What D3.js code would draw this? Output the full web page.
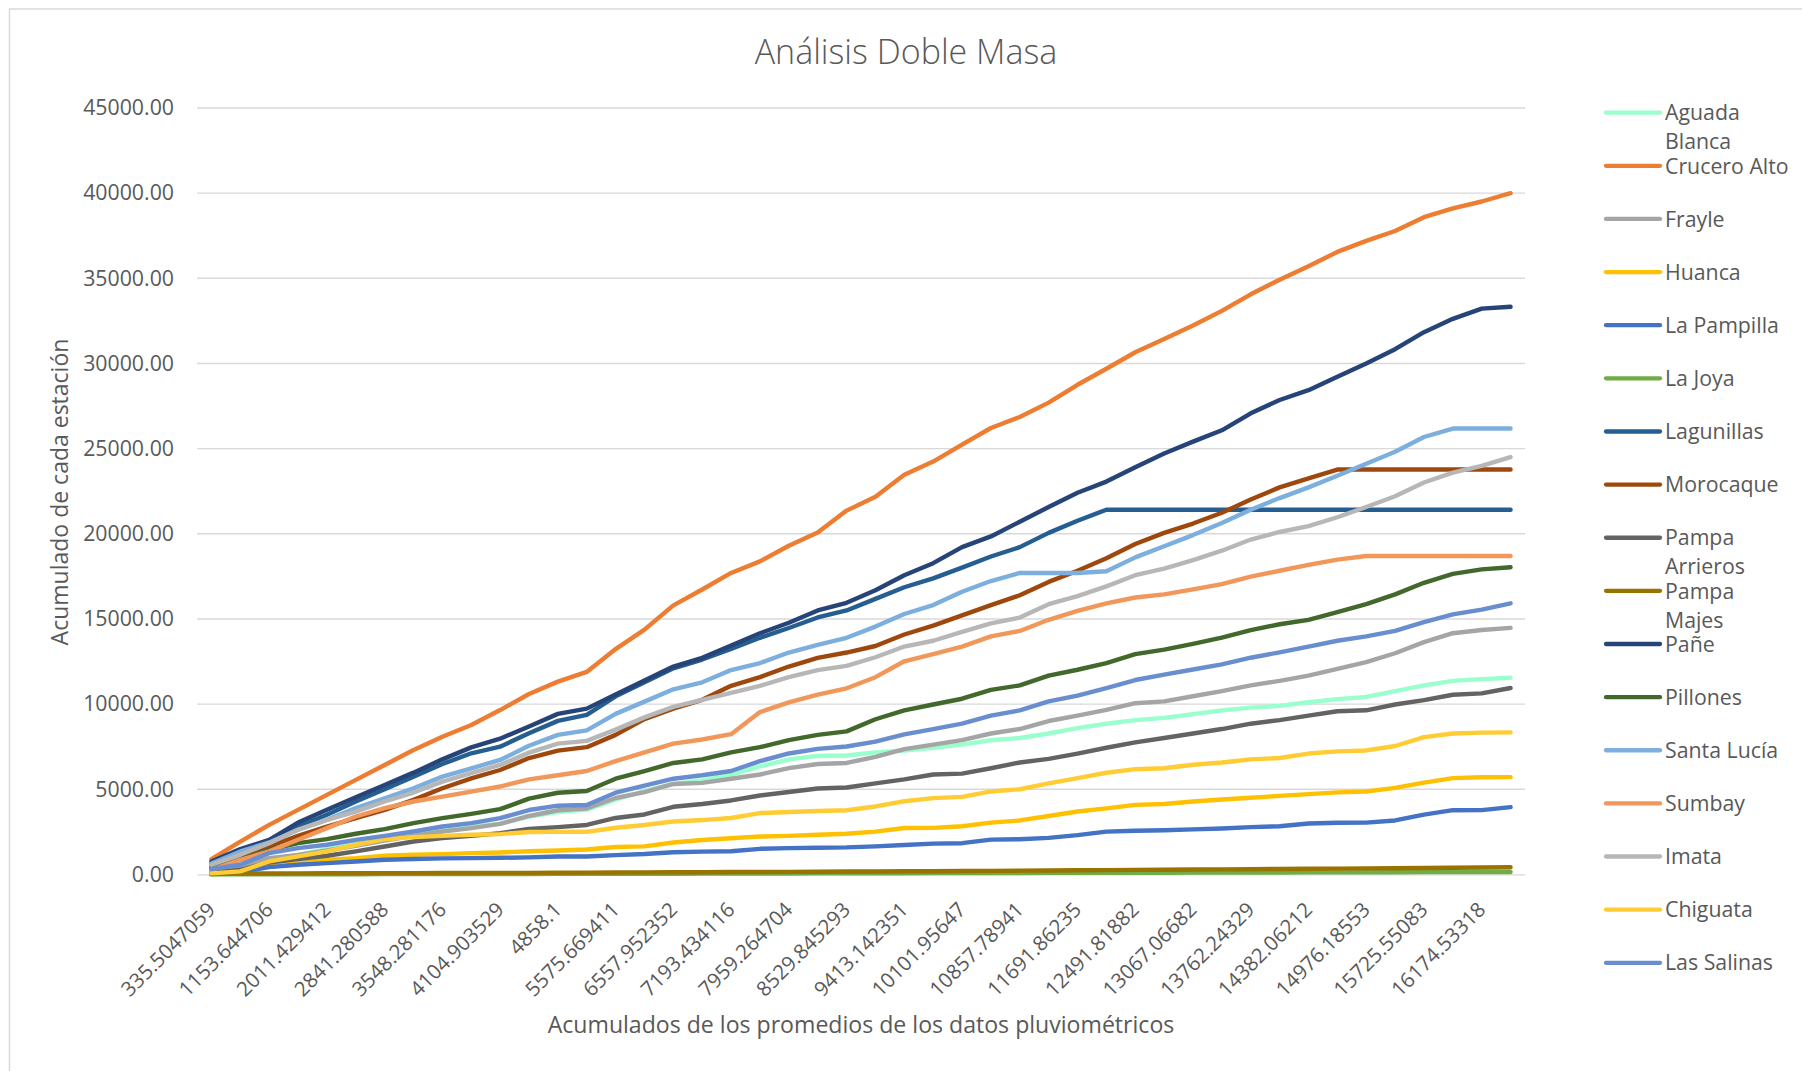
<!DOCTYPE html>
<html><head><meta charset="utf-8">
<script src="https://cdn.jsdelivr.net/npm/d3@7"></script>
<style>
body{margin:0;background:#fff}
svg{display:block}
text{font-family:'Open Sans','Liberation Sans',sans-serif;fill:#595959}
</style>
</head><body>
<svg id="chart" width="1802" height="1071"></svg>
<script>
// ---------------- DATA ----------------
const chartTitle = "Análisis Doble Masa";
const xTitle = "Acumulados de los promedios de los datos pluviométricos";
const yTitle = "Acumulado de cada estación";

const categories = [
  "335.5047059","748.6947059","1153.644706","1612.905882","2011.429412","2438.217647",
  "2841.280588","3195.941176","3548.281176","3829.764706","4104.903529","4519.235294",
  "4858.1","5119.478823","5575.669411","6086.823529","6557.952352","6881.117646",
  "7193.434116","7591.064704","7959.264704","8262.711763","8529.845293","8983.274116",
  "9413.142351","9742.517645","10101.95647","10489.34118","10857.78941","11283.45882",
  "11691.86235","12108.21176","12491.81882","12786.04706","13067.06682","13421.78329",
  "13762.24329","14055.37976","14382.06212","14690.80094","14976.18553","15357.70259",
  "15725.55083","15951.36024","16174.53318","16502.41965"
];
const yTicks = [0,5000,10000,15000,20000,25000,30000,35000,40000,45000];

const seriesNames = ["Aguada Blanca","Crucero Alto","Frayle","Huanca","La Pampilla","La Joya",
  "Lagunillas","Morocaque","Pampa Arrieros","Pampa Majes","Pañe","Pillones","Santa Lucía",
  "Sumbay","Imata","Chiguata","Las Salinas"];
const seriesColors = ["#99FFCC","#ED7D31","#A5A5A5","#FFC000","#4472C4","#70AD47",
  "#255E91","#9E480E","#636363","#997300","#264478","#43682B","#7CAFDD",
  "#F1975A","#B7B7B7","#FFCD33","#698ED0"];

const aguadaBlanca = [180,470,900,1150,1485,1835,2070,2325,2580,2810,2970,3400,3663,3807,4384,4898,5310,5515,5865,6339,6750,6956,6980,7165,7278,7435,7618,7880,8011,8273,8587,8849,9058,9189,9410,9634,9791,9896,10105,10289,10420,10760,11100,11362,11467,11545];
const cruceroAlto = [900,1930,2910,3790,4670,5550,6425,7300,8085,8770,9650,10590,11320,11890,13230,14370,15800,16730,17700,18380,19300,20070,21360,22170,23460,24240,25240,26210,26860,27700,28750,29690,30660,31440,32230,33090,34060,34920,35710,36550,37200,37780,38590,39110,39510,40000];
const frayle = [235,470,955,1150,1405,1680,1990,2265,2520,2715,2970,3430,3766,3869,4486,4836,5310,5371,5618,5865,6236,6483,6544,6900,7357,7618,7880,8273,8535,9006,9320,9660,10053,10158,10460,10760,11100,11362,11676,12069,12462,12985,13640,14163,14347,14478];
const huanca = [0,80,565,665,860,955,1095,1150,1190,1250,1290,1360,1400,1461,1605,1646,1873,2017,2120,2223,2264,2326,2387,2510,2723,2730,2827,3037,3168,3430,3691,3875,4084,4136,4280,4398,4503,4608,4712,4817,4870,5079,5393,5655,5707,5710];
const laPampilla = [20,120,430,565,665,760,860,900,940,955,975,1000,1050,1055,1132,1194,1297,1338,1358,1502,1544,1564,1585,1648,1728,1806,1833,2042,2068,2147,2304,2513,2566,2592,2644,2697,2775,2827,2985,3037,3040,3168,3508,3770,3775,3953];
const laJoya = [0,3,5,7,11,12,16,18,19,23,26,27,31,33,35,41,42,47,50,52,57,60,62,67,70,72,77,81,82,87,90,92,97,101,102,107,110,112,117,121,122,127,131,134,141,145];
const lagunillas = [660,1400,1930,2810,3500,4280,5000,5740,6480,7110,7500,8290,9014,9364,10455,11278,12101,12616,13233,13892,14468,15085,15497,16180,16860,17384,18012,18666,19216,20054,20761,21415,21415,21415,21415,21415,21415,21415,21415,21415,21415,21415,21415,21415,21415,21415];
const morocaque = [470,1050,1640,2265,2810,3300,3790,4375,5060,5640,6130,6830,7265,7471,8191,9117,9734,10249,11072,11587,12204,12718,13027,13410,14085,14609,15211,15813,16389,17174,17829,18562,19399,20054,20600,21232,22017,22724,23248,23771,23771,23771,23771,23771,23771,23771];
const pampaArrieros = [80,270,700,900,1095,1350,1640,1930,2130,2265,2420,2675,2778,2902,3313,3519,3972,4137,4342,4631,4836,5042,5104,5346,5576,5864,5917,6231,6571,6781,7095,7435,7749,8011,8273,8535,8849,9058,9320,9582,9634,9975,10236,10550,10629,10943];
const pampaMajes = [30,44,56,59,66,69,73,74,81,84,89,91,101,104,111,117,126,129,139,144,151,157,166,171,181,189,201,209,219,227,241,249,263,271,286,295,306,317,331,341,353,364,379,391,406,420];
const pane = [760,1485,2030,3045,3790,4530,5250,5975,6755,7460,7970,8690,9426,9734,10557,11381,12204,12718,13439,14159,14776,15497,15950,16680,17567,18274,19216,19844,20708,21572,22410,23065,23902,24714,25410,26075,27070,27855,28431,29217,30002,30840,31835,32620,33222,33327];
const pillones = [370,860,1445,1835,2070,2385,2655,3010,3300,3555,3830,4450,4795,4898,5618,6071,6544,6750,7162,7471,7882,8191,8397,9110,9634,9975,10315,10839,11100,11676,12017,12409,12933,13195,13535,13902,14347,14687,14949,15394,15865,16441,17122,17645,17907,18038];
const santaLucia = [640,1350,1875,2620,3200,3890,4470,5060,5740,6230,6720,7550,8191,8458,9426,10146,10866,11278,11998,12410,13027,13480,13892,14550,15289,15813,16598,17226,17698,17698,17698,17802,18614,19268,19923,20630,21415,22096,22724,23405,24112,24819,25683,26180,26180,26180];
const sumbay = [270,860,1350,2030,2715,3400,3890,4280,4570,4865,5160,5580,5824,6071,6647,7162,7676,7923,8232,9529,10105,10558,10928,11580,12514,12933,13378,13980,14294,14949,15472,15917,16258,16441,16740,17043,17488,17829,18169,18483,18692,18692,18692,18692,18692,18692];
const imata = [566,1150,1835,2620,3200,3690,4280,4805,5450,5940,6425,7150,7676,7841,8500,9220,9837,10249,10660,11072,11587,11998,12245,12750,13378,13718,14242,14739,15080,15865,16336,16912,17567,17960,18457,19007,19661,20106,20446,20970,21572,22200,23012,23588,23981,24504];
const chiguata = [60,175,760,1055,1350,1740,2070,2190,2265,2325,2365,2490,2495,2500,2737,2902,3108,3190,3313,3601,3663,3725,3766,3990,4294,4477,4555,4870,5000,5341,5655,5969,6178,6231,6440,6571,6754,6833,7095,7226,7278,7540,8063,8273,8325,8340];
const lasSalinas = [310,565,1250,1540,1740,2030,2265,2520,2810,3010,3300,3780,4034,4075,4795,5207,5618,5824,6071,6647,7100,7368,7512,7795,8221,8535,8849,9320,9634,10158,10498,10943,11414,11729,12030,12331,12723,13038,13378,13718,13980,14294,14818,15263,15551,15917];

const seriesValues = [aguadaBlanca,cruceroAlto,frayle,huanca,laPampilla,laJoya,lagunillas,
  morocaque,pampaArrieros,pampaMajes,pane,pillones,santaLucia,sumbay,imata,chiguata,lasSalinas];

// ---------------- DRAW ----------------
const svg = d3.select("#chart");
const plot = {left:197, right:1525, top:108, bottom:874.4};
const gridColor = "#D9D9D9";

svg.append("rect").attr("x",9.5).attr("y",9).attr("width",1802).attr("height",1071)
  .attr("fill","none").attr("stroke",gridColor).attr("stroke-width",1.5);

const x = d3.scaleBand().domain(d3.range(categories.length)).range([plot.left, plot.right]);
const y = d3.scaleLinear().domain([0,45000]).range([plot.bottom, plot.top]);
const cx = i => x(i) + x.bandwidth()/2;

// gridlines
svg.append("g").selectAll("line").data(yTicks.filter(t=>t>0)).join("line")
  .attr("x1",plot.left).attr("x2",plot.right)
  .attr("y1",d=>y(d)).attr("y2",d=>y(d))
  .attr("stroke",gridColor).attr("stroke-width",1.4);

// y axis labels
const yAxis = d3.axisLeft(y).tickValues(yTicks).tickFormat(d3.format(".2f")).tickSize(0).tickPadding(0);
const gy = svg.append("g").attr("transform",`translate(${plot.left-23},0)`).call(yAxis);
gy.select(".domain").remove();
gy.selectAll("text").attr("font-size",21.3).attr("fill","#595959")
  .style("font-family","'Open Sans','Liberation Sans',sans-serif");

// x axis
const xAxis = d3.axisBottom(x).tickValues(d3.range(0,categories.length,2))
  .tickFormat(i=>categories[i]).tickSize(0).tickSizeOuter(0);
const gx = svg.append("g").attr("transform",`translate(0,${plot.bottom})`).call(xAxis);
gx.select(".domain").attr("stroke",gridColor).attr("stroke-width",1.4);
gx.selectAll("text").attr("font-size",20.5).attr("fill","#595959")
  .style("font-family","'Open Sans','Liberation Sans',sans-serif")
  .attr("text-anchor","end").attr("x",0).attr("y",0).attr("dy","0.35em")
  .attr("transform","translate(0,31.5) rotate(-45)");

// series lines
const line = d3.line().x((d,i)=>cx(i)).y(d=>y(d));
svg.append("g").selectAll("path").data(seriesValues).join("path")
  .attr("d",d=>line(d)).attr("fill","none")
  .attr("stroke",(d,i)=>seriesColors[i]).attr("stroke-width",4.4)
  .attr("stroke-linejoin","round").attr("stroke-linecap","round");

// titles
svg.append("text").attr("x",906).attr("y",64).attr("text-anchor","middle")
  .attr("font-size",34).attr("font-weight",300).text(chartTitle);
svg.append("text").attr("x",861).attr("y",1033).attr("text-anchor","middle")
  .attr("font-size",23.1).text(xTitle);
svg.append("text").attr("transform","translate(60,492) rotate(-90)")
  .attr("text-anchor","middle").attr("dy","0.35em")
  .attr("font-size",23).text(yTitle);

// legend
const legTop = 112.7, legStep = 53.13, wrapWidth = 127;
const leg = svg.append("g").selectAll("g").data(seriesNames).join("g")
  .attr("transform",(d,i)=>`translate(0,${legTop+legStep*i})`);
leg.append("line").attr("x1",1606).attr("x2",1660).attr("y1",0).attr("y2",0)
  .attr("stroke",(d,i)=>seriesColors[i]).attr("stroke-width",4.3).attr("stroke-linecap","round");
leg.each(function(name){
  const g = d3.select(this);
  const t = g.append("text").attr("x",1665).attr("y",0).attr("dy","0.36em")
    .attr("font-size",21.3).text(name);
  if (t.node().getComputedTextLength() > wrapWidth && name.includes(" ")) {
    const parts = name.split(" ");
    t.text(parts[0]);
    g.append("text").attr("x",1665).attr("y",29).attr("dy","0.36em")
      .attr("font-size",21.3).text(parts.slice(1).join(" "));
  }
});
</script>
</body></html>
